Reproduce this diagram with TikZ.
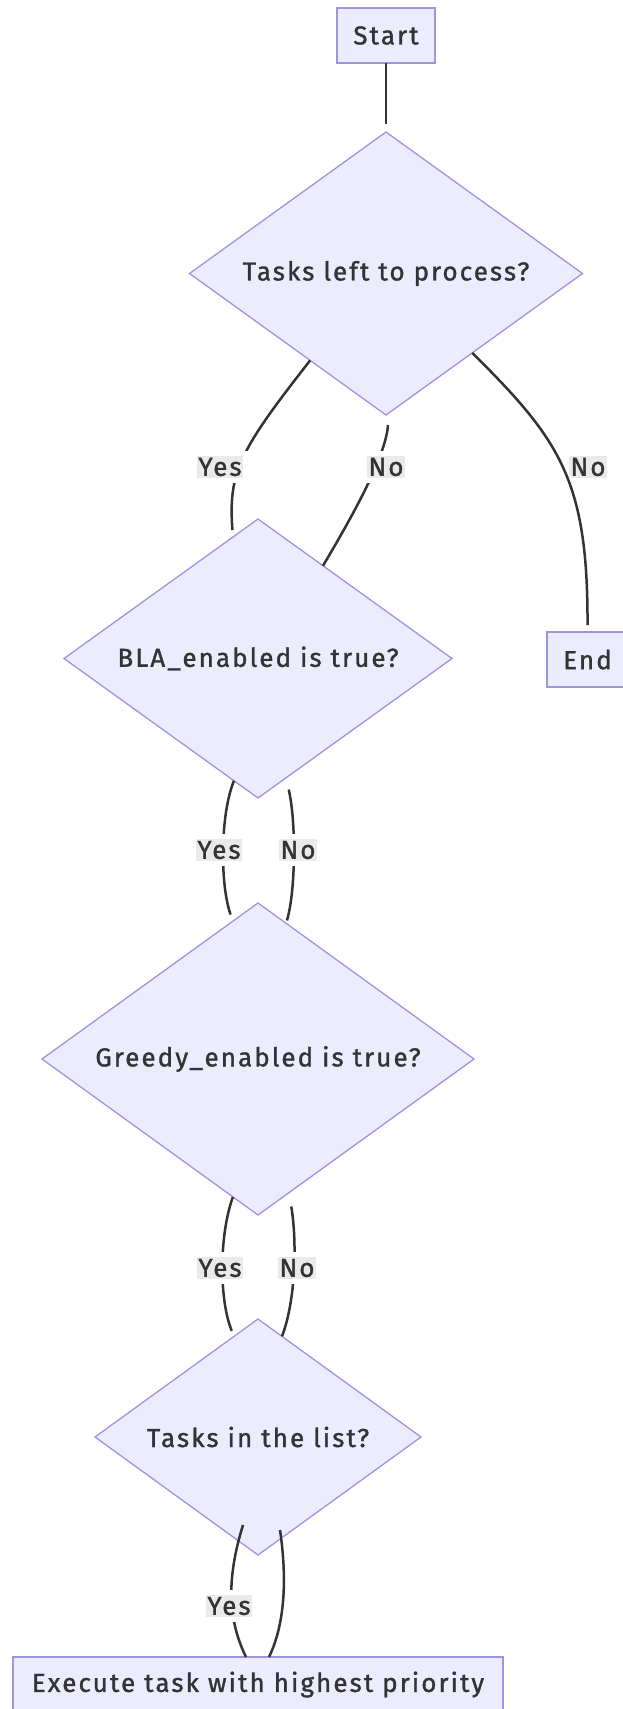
\documentclass[tikz,border=0pt]{standalone}
\usepackage{fontspec}
\setmainfont{Fira Sans}[LetterSpace=8,FakeBold=1.2]
\usetikzlibrary{shapes.geometric,calc}
\definecolor{nodefill}{HTML}{ECECFF}
\definecolor{nodeline}{HTML}{A093E0}
\definecolor{edgecol}{HTML}{333333}
\definecolor{txtcol}{HTML}{333333}
\definecolor{lblbg}{HTML}{EAEAEA}
\newcommand{\diagfont}{\fontsize{26}{30}\selectfont}
\begin{document}
\begin{tikzpicture}[x=1pt,y=-1pt,
  box/.style={rectangle, draw=nodeline, fill=nodefill, line width=1.3pt, text=txtcol, font=\diagfont, inner sep=0pt, outer sep=0pt},
  decision/.style={diamond, draw=nodeline, fill=nodefill, line width=1.3pt, text=txtcol, font=\diagfont, inner sep=0pt, outer sep=0pt, aspect=1.4},
  link/.style={draw=edgecol, line width=2.5pt},
  lblplain/.style={fill=lblbg, text=txtcol, font=\diagfont, inner xsep=1pt, inner ysep=0pt, minimum height=22pt},
  lbl/.style={lblplain, preaction={draw=white, line width=10pt}},
]
\useasboundingbox (0,0) rectangle (622,1709);

% nodes
\node[box, minimum width=98pt, minimum height=55pt] (start) at (386,35.5) {Start};
\node[decision, minimum width=393pt, minimum height=283pt] (d1) at (386,273.5) {Tasks left to process?};
\node[decision, minimum width=388pt, minimum height=279pt] (d2) at (258,658.5) {BLA\_enabled is true?};
\node[box, minimum width=81pt, minimum height=55pt] (endn) at (587.5,659.5) {End};
\node[decision, minimum width=432pt, minimum height=312pt] (d3) at (258,1059) {Greedy\_enabled is true?};
\node[decision, minimum width=326pt, minimum height=236pt] (d4) at (258,1437) {Tasks in the list?};
\node[box, minimum width=490pt, minimum height=55pt] (exec) at (258,1684.5) {Execute task with highest priority};

% connectors
\draw[link, shorten >=8pt] (start.south) -- (d1.north);
\draw[link, shorten >=7pt] ($(d1.west)!0.614!(d1.south)$) .. controls (240,450) and (228,472) .. ($(d2.west)!0.871!(d2.north)$);
\draw[link] ($(d1.south)+(2,10)$) .. controls (386,455) and (355,512) .. ($(d2.north)!0.335!(d2.east)$);
\draw[link, shorten >=7pt] ($(d1.east)!0.561!(d1.south)$) .. controls (560,440) and (588,480) .. (endn.north);
\draw[link, shorten >=7pt] ($(d2.west)!0.876!(d2.south)$) .. controls (220,815) and (220,885) .. ($(d3.west)!0.884!(d3.north)$);
\draw[link, shorten <=12pt, shorten >=3pt] ($(d2.south)!0.144!(d2.east)$) .. controls (296,820) and (296,890) .. ($(d3.north)!0.13!(d3.east)$);
\draw[link, shorten >=6pt] ($(d3.west)!0.884!(d3.south)$) .. controls (219,1235) and (219,1300) .. ($(d4.west)!0.853!(d4.north)$);
\draw[link, shorten <=14pt] ($(d3.south)!0.143!(d3.east)$) .. controls (297,1240) and (296,1300) .. ($(d4.north)!0.147!(d4.east)$);
\draw[link] ($(d4.south)+(-15,-30)$) .. controls (226,1580) and (228,1620) .. ($(exec.north)+(-12,0)$);
\draw[link] ($(d4.south)+(22,-25)$) .. controls (286,1570) and (287,1620) .. ($(exec.north)+(11,0)$);

% labels
\node[lbl] (l1) at (220,467) {Yes};
\node[lbl] (l2) at (386,467) {No};
\node[lblplain] (l3) at (588,467) {No};
\node[lbl] (l4) at (219,850) {Yes};
\node[lbl] (l5) at (298,850) {No};
\node[lbl] (l6) at (220,1268) {Yes};
\node[lbl] (l7) at (297,1268) {No};
\node[lbl] (l8) at (229,1606) {Yes};
\end{tikzpicture}
\end{document}
